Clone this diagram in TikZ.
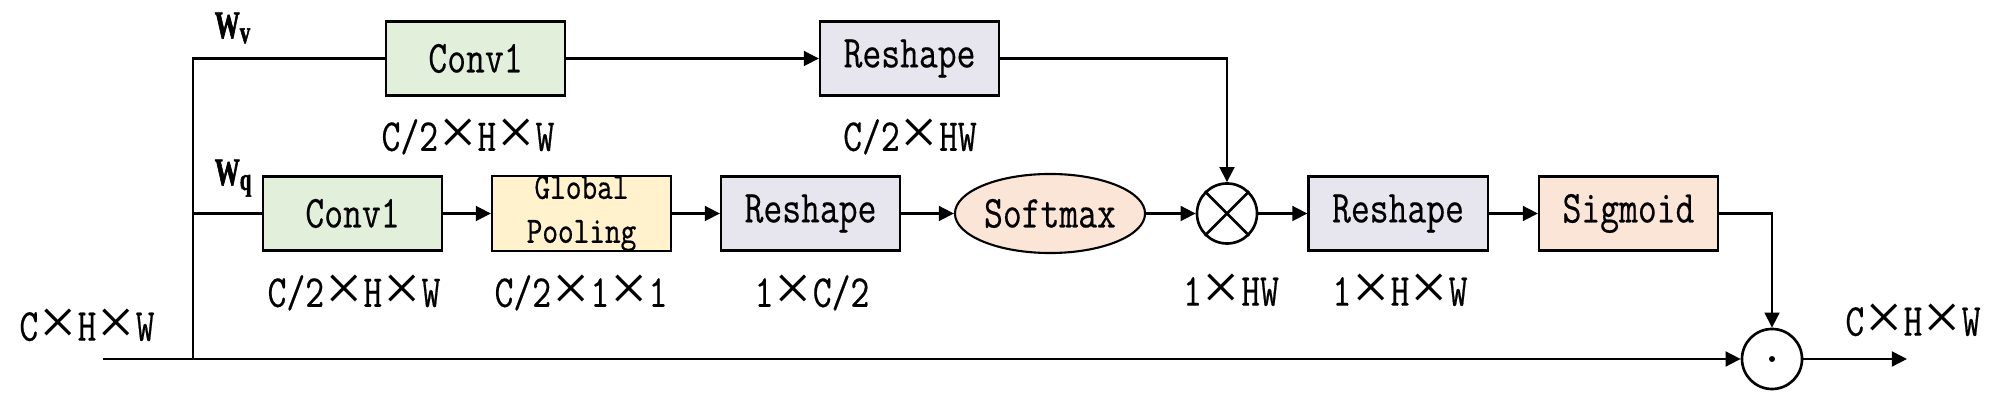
\documentclass[tikz,border=0pt]{standalone}
\usepackage{fontspec}
\setmainfont[FakeStretch=0.8,FakeBold=0.4]{Latin Modern Mono}
\newfontfamily\wfont[FakeStretch=0.65,FakeBold=1.5]{Liberation Serif}
\newfontfamily\xfont{Liberation Serif}
\usetikzlibrary{arrows.meta,shapes.geometric}
\definecolor{cgreen}{HTML}{E2EFDA}
\definecolor{cyellow}{HTML}{FFF2CC}
\definecolor{cgray}{HTML}{E7E6EE}
\definecolor{cpeach}{HTML}{FBE5D6}
\newcommand\tms{\makebox[0.86em][c]{\raisebox{-0.09em}{\scalebox{1.45}{\xfont ×}}}}
\tikzset{
  blk/.style={draw, line width=0.6pt, minimum width=1.79cm, minimum height=0.74cm, inner sep=0pt, font=\fontsize{13}{14.5}\selectfont},
  lbl/.style={inner sep=0pt, font=\fontsize{13}{14.5}\selectfont},
  conn/.style={line width=0.75pt, -{Triangle[length=4.3pt,width=4.2pt]}},
  ln/.style={line width=0.75pt},
  opc/.style={draw, circle, line width=0.75pt, minimum size=0.6cm, inner sep=0pt},
  wlbl/.style={inner sep=0pt, anchor=base west, font=\wfont\bfseries\fontsize{11}{12}\selectfont}
}
\begin{document}
\begin{tikzpicture}[x=0.01cm,y=-0.01cm]
\useasboundingbox (0,0) rectangle (2000,404);
% blocks
\node[blk, fill=cgreen] (cv1) at (475.5,58.5) {Conv1};
\node[blk, fill=cgray] (rs1) at (909.5,58.5) {Reshape};
\node[blk, fill=cgreen] (cv2) at (352.5,213.5) {Conv1};
\node[blk, fill=cyellow, align=center, font=\fontsize{10.6}{12.5}\selectfont] (gp) at (581.5,213.5) {Global\\Pooling};
\node[blk, fill=cgray] (rs2) at (810.5,213.5) {Reshape};
\node[draw, ellipse, fill=cpeach, line width=0.6pt, minimum width=1.9cm, minimum height=0.79cm, inner sep=0pt, font=\fontsize{13}{14.5}\selectfont] (sm) at (1050,213.5) {Softmax};
\node[opc] (ot) at (1227,213.5) {};
\draw[line width=0.75pt] (ot.north east) -- (ot.south west) (ot.north west) -- (ot.south east);
\node[blk, fill=cgray] (rs3) at (1398,213.5) {Reshape};
\node[blk, fill=cpeach] (sg) at (1628.5,213.5) {Sigmoid};
\node[opc] (od) at (1772,359) {};
\fill (od.center) circle (3);
% coordinates
\coordinate (in) at (103,359);
\coordinate (tb) at (193,359);
\coordinate (tt) at (193,58.5);
\coordinate (tm) at (193,213.5);
\coordinate (out) at (1907,359);
% connectors
\draw[conn] (in) -- (od.west);
\draw[ln] (tb) -- (tt) -- (cv1.west);
\draw[ln] (tm) -- (cv2.west);
\draw[conn] (cv1.east) -- (rs1.west);
\draw[conn] (rs1.east) -| (ot.north);
\draw[conn] (cv2.east) -- (gp.west);
\draw[conn] (gp.east) -- (rs2.west);
\draw[conn] (rs2.east) -- (sm.west);
\draw[conn] (sm.east) -- (ot.west);
\draw[conn] (ot.east) -- (rs3.west);
\draw[conn] (rs3.east) -- (sg.west);
\draw[conn] (sg.east) -| (od.north);
\draw[conn] (od.east) -- (out);
% labels
\node[lbl] (l0) at (87,327) {C\tms H\tms W};
\node[lbl] (l1) at (468,137) {C/2\tms H\tms W};
\node[lbl] (l2) at (910,137) {C/2\tms HW};
\node[lbl] (l3) at (354,293) {C/2\tms H\tms W};
\node[lbl] (l4) at (581,293) {C/2\tms 1\tms 1};
\node[lbl] (l5) at (812,293) {1\tms C/2};
\node[lbl] (l6) at (1231,292) {1\tms HW};
\node[lbl] (l7) at (1400,292) {1\tms H\tms W};
\node[lbl] (l8) at (1913,322) {C\tms H\tms W};
\node[wlbl] (wv) at (214,38) {W\raisebox{-0.05cm}{\fontsize{9}{9}\selectfont v}};
\node[wlbl] (wq) at (214,185) {W\raisebox{-0.05cm}{\fontsize{9}{9}\selectfont q}};
\end{tikzpicture}
\end{document}
